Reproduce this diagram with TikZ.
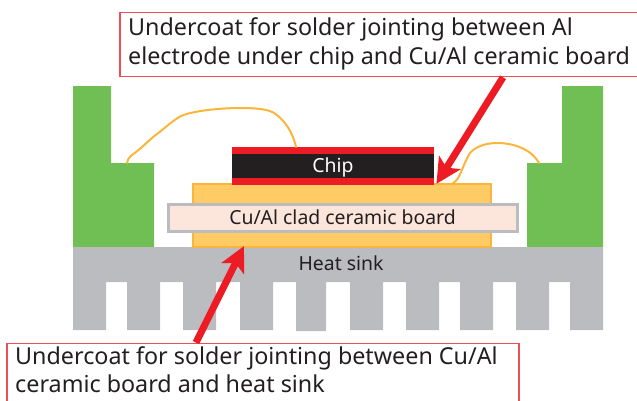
\documentclass[tikz,border=0pt]{standalone}
\usepackage{fontspec}
\setmainfont{Noto Sans}[Scale=1.0]
\usetikzlibrary{arrows.meta}
\definecolor{lead}{HTML}{6FBF55}
\definecolor{sinkgray}{HTML}{BBBCBF}
\definecolor{boardorange}{HTML}{FECB65}
\definecolor{edgeorange}{HTML}{FBB53A}
\definecolor{pinkfill}{HTML}{FCE5DA}
\definecolor{chipblack}{HTML}{231F20}
\definecolor{solderred}{HTML}{ED1C24}
\definecolor{calloutedge}{HTML}{EE4F57}
\tikzset{
  x=1pt,y=-1pt,
  wire/.style={draw=edgeorange,line width=2pt,line cap=round},
  calloutbox/.style={draw=calloutedge,line width=1.8pt,fill=white,rectangle,inner sep=0pt,anchor=north west},
  callouttext/.style={anchor=north west,inner sep=0pt,align=left,text=chipblack,font=\fontsize{23.3}{29.5}\selectfont},
  pointer/.style={draw=solderred,line width=7pt,-{Stealth[length=25pt,width=25pt,inset=6pt]},shorten >=-1pt},
  label/.style={inner sep=0pt,text=chipblack,font=\fontsize{19.4}{22}\selectfont}
}
\begin{document}
\begin{tikzpicture}
\useasboundingbox (0,0) rectangle (637,400);
% leads
\fill[lead] (73,86) -- (111,86) -- (111,163) -- (154,163) -- (154,247) -- (73,247) -- cycle;
\fill[lead] (603,86) -- (562,86) -- (562,163) -- (527,163) -- (527,247) -- (603,247) -- cycle;
% heat sink
\fill[sinkgray] (73,247) -- (603,247) -- (603,330) -- (570,330) -- (570,282) -- (549,282) -- (549,330)
  -- (516,330) -- (516,282) -- (493,282) -- (493,330) -- (460,330) -- (460,282) -- (439,282) -- (439,330)
  -- (406,330) -- (406,282) -- (383,282) -- (383,330) -- (350,330) -- (350,282) -- (326,282) -- (326,331)
  -- (296,331) -- (296,282) -- (273,282) -- (273,330) -- (240,330) -- (240,282) -- (216,282) -- (216,330)
  -- (183,330) -- (183,282) -- (160,282) -- (160,330) -- (127,330) -- (127,282) -- (106,282) -- (106,330)
  -- (73,330) -- cycle;
\node[label] (sink) at (341,263) {Heat sink};
% board
\filldraw[fill=boardorange,draw=edgeorange,line width=2pt] (193,184) rectangle (490.5,247);
\node[draw=sinkgray,line width=3pt,fill=pinkfill,minimum width=349pt,minimum height=27pt,inner sep=0pt,label] (board) at (342.5,217.5) {Cu/Al clad ceramic board};
% chip
\fill[solderred] (232,147) rectangle (434,185);
\node[fill=chipblack,minimum width=202pt,minimum height=24pt,inner sep=0pt,label,text=white,text height=18pt,text depth=6pt] (chip) at (333,166) {Chip};
% wires
\coordinate (wl0) at (127,163);
\coordinate (wl1) at (296,147);
\coordinate (wr0) at (453,183);
\coordinate (wr1) at (539,163);
\draw[wire] (wl0) .. controls (128,157) and (132,155) .. (136,152)
  .. controls (145,145) and (150,139) .. (157,134)
  .. controls (165,128) and (172,121) .. (181,116)
  .. controls (195,110) and (225,108) .. (240,108)
  .. controls (255,108) and (268,109) .. (274,113)
  .. controls (285,120) and (293,133) .. (wl1);
\draw[wire] (wr0) .. controls (460,180) and (462,166) .. (470,153)
  .. controls (476,146) and (487,143) .. (497,143)
  .. controls (515,143) and (532,150) .. (wr1);
% callouts
\node[calloutbox,minimum width=518pt,minimum height=64pt] (topbox) at (119,11.5) {};
\node[callouttext] (toptext) at (128,17) {Undercoat for solder jointing between Al\\electrode under chip and Cu/Al ceramic board};
\node[calloutbox,minimum width=512pt,minimum height=60pt] (botbox) at (6,342.5) {};
\node[callouttext,font=\fontsize{23.3}{27.5}\selectfont] (bottext) at (15,346.5) {Undercoat for solder jointing between Cu/Al\\ceramic board and heat sink};
% pointers
\coordinate (toptip) at (437,183);
\coordinate (bottip) at (243.5,247);
\draw[pointer] (topbox.south -| 503,0) -- (toptip);
\draw[pointer] (botbox.north -| 196,0) -- (bottip);
\end{tikzpicture}
\end{document}
